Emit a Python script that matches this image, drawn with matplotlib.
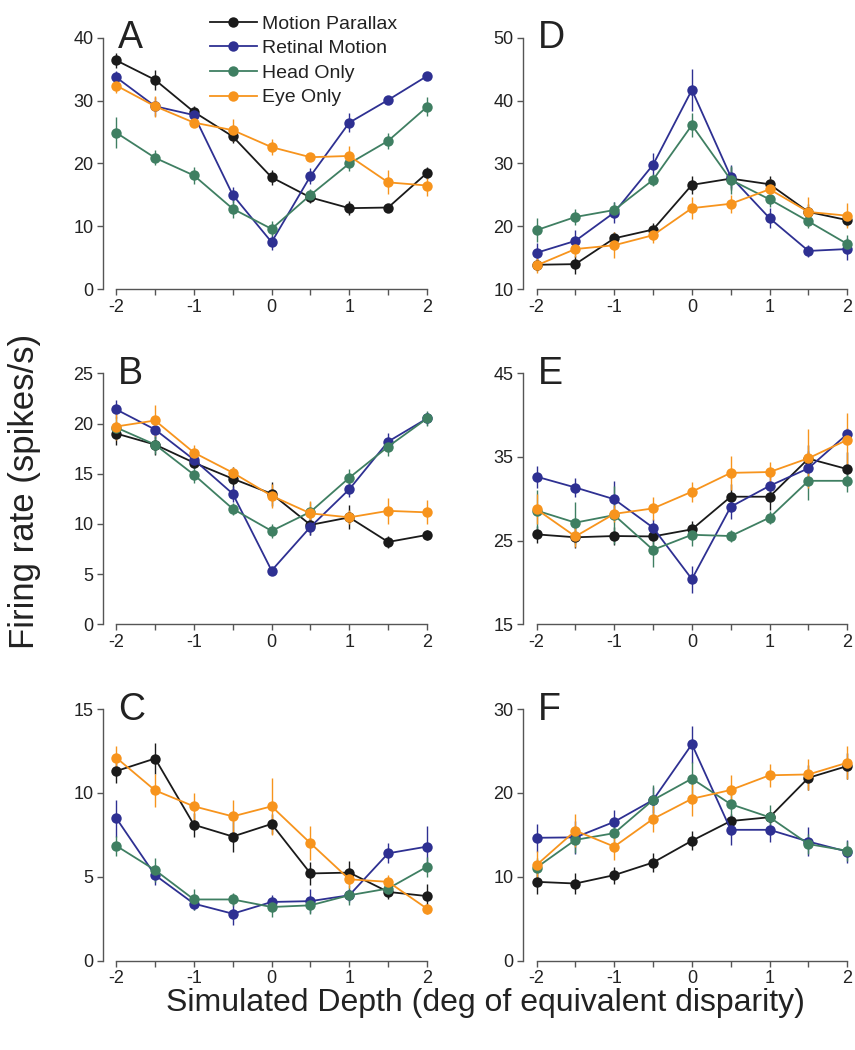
import numpy as np
import matplotlib.pyplot as plt
from matplotlib.ticker import MultipleLocator
from matplotlib.lines import Line2D

plt.rcParams['font.family'] = ['Liberation Sans', 'DejaVu Sans']

depth = [-2, -1.5, -1, -0.5, 0, 0.5, 1, 1.5, 2]
names = ["Motion Parallax", "Retinal Motion", "Head Only", "Eye Only"]
colors = ["#1a1a1a", "#2e3092", "#3f7f62", "#f7941d"]

# panel A
a_mp = [36.4, 33.3, 28.2, 24.3, 17.8, 14.6, 12.9, 13.0, 18.5]
a_mp_err = [1.2, 1.6, 1.0, 1.0, 1.2, 0.9, 1.1, 0.5, 1.0]
a_rm = [33.7, 29.1, 27.7, 15.0, 7.5, 18.0, 26.5, 30.1, 33.9]
a_rm_err = [1.0, 1.5, 1.0, 1.3, 1.2, 1.3, 1.5, 0.5, 0.5]
a_ho = [24.9, 20.9, 18.1, 12.8, 9.6, 15.0, 20.0, 23.6, 29.0]
a_ho_err = [2.5, 1.2, 1.4, 1.5, 1.2, 1.0, 1.2, 1.3, 1.5]
a_eo = [32.4, 29.1, 26.5, 25.3, 22.6, 21.0, 21.2, 17.0, 16.5]
a_eo_err = [1.2, 1.7, 0.7, 1.8, 1.3, 0.6, 1.6, 1.9, 1.6]

# panel B
b_mp = [19.0, 17.9, 16.1, 14.5, 13.0, 9.9, 10.65, 8.2, 8.9]
b_mp_err = [1.1, 1.0, 0.5, 1.2, 1.2, 1.0, 1.2, 0.6, 0.5]
b_rm = [21.4, 19.4, 16.4, 13.0, 5.35, 9.7, 13.45, 18.2, 20.5]
b_rm_err = [0.9, 0.9, 0.8, 0.8, 0.4, 0.8, 0.8, 0.9, 0.6]
b_ho = [19.6, 17.9, 14.9, 11.5, 9.3, 11.2, 14.6, 17.7, 20.5]
b_ho_err = [1.0, 0.9, 0.8, 0.6, 0.7, 1.0, 0.9, 0.9, 0.7]
b_eo = [19.7, 20.3, 17.1, 15.1, 12.8, 11.05, 10.65, 11.3, 11.15]
b_eo_err = [1.3, 1.5, 0.8, 0.6, 1.2, 1.2, 0.7, 1.3, 1.2]

# panel C
c_mp = [11.3, 12.05, 8.1, 7.4, 8.15, 5.2, 5.25, 4.1, 3.85]
c_mp_err = [0.7, 0.9, 0.7, 0.9, 0.6, 0.7, 0.7, 0.4, 0.7]
c_rm = [8.5, 5.1, 3.4, 2.8, 3.5, 3.55, 3.9, 6.4, 6.8]
c_rm_err = [1.1, 0.6, 0.4, 0.7, 0.4, 0.7, 0.4, 0.6, 1.2]
c_ho = [6.85, 5.4, 3.65, 3.65, 3.2, 3.3, 3.9, 4.3, 5.6]
c_ho_err = [0.6, 0.7, 0.6, 0.4, 0.6, 0.5, 0.6, 0.3, 0.6]
c_eo = [12.1, 10.15, 9.2, 8.6, 9.2, 7.0, 4.85, 4.7, 3.1]
c_eo_err = [0.7, 1.0, 0.8, 1.0, 1.7, 1.0, 0.5, 0.4, 0.3]

# panel D
d_mp = [13.9, 14.0, 18.1, 19.5, 26.6, 27.6, 26.7, 22.3, 21.0]
d_mp_err = [1.0, 1.5, 1.0, 1.0, 1.4, 1.8, 1.3, 1.2, 1.0]
d_rm = [15.8, 17.7, 22.2, 29.8, 41.7, 27.9, 21.3, 16.1, 16.4]
d_rm_err = [1.5, 1.8, 1.6, 1.8, 3.4, 1.8, 1.6, 1.0, 1.8]
d_ho = [19.4, 21.5, 22.6, 27.4, 36.1, 27.4, 24.3, 20.8, 17.2]
d_ho_err = [1.9, 1.3, 1.3, 1.0, 1.9, 2.2, 1.2, 1.1, 1.5]
d_eo = [13.8, 16.4, 17.0, 18.6, 22.9, 23.6, 25.9, 22.3, 21.7]
d_eo_err = [1.2, 1.3, 2.1, 1.2, 1.8, 1.4, 1.6, 2.3, 2.0]

# panel E
e_mp = [25.75, 25.4, 25.55, 25.5, 26.35, 30.25, 30.25, 34.8, 33.55]
e_mp_err = [1.0, 1.3, 1.1, 1.0, 1.0, 1.5, 1.6, 1.6, 2.0]
e_rm = [32.65, 31.35, 29.95, 26.55, 20.4, 29.05, 31.55, 33.65, 37.75]
e_rm_err = [1.3, 1.1, 2.2, 1.0, 1.6, 1.5, 1.4, 2.1, 0.7]
e_ho = [28.6, 27.15, 28.05, 23.9, 25.7, 25.55, 27.75, 32.15, 32.15]
e_ho_err = [2.5, 2.5, 3.5, 2.0, 1.3, 0.7, 0.8, 2.3, 1.3]
e_eo = [28.75, 25.5, 28.2, 28.85, 30.85, 33.1, 33.2, 34.85, 37.05]
e_eo_err = [1.8, 1.3, 1.0, 1.4, 1.2, 2.0, 1.2, 3.5, 3.2]

# panel F
f_mp = [9.4, 9.2, 10.2, 11.7, 14.3, 16.65, 17.1, 21.8, 23.2]
f_mp_err = [1.4, 1.3, 1.0, 1.1, 1.1, 0.8, 0.6, 1.5, 1.5]
f_rm = [14.65, 14.7, 16.55, 19.15, 25.8, 15.6, 15.6, 14.2, 13.0]
f_rm_err = [1.7, 2.0, 1.4, 1.5, 2.2, 1.8, 1.4, 1.7, 1.4]
f_ho = [11.1, 14.4, 15.2, 19.15, 21.7, 18.65, 17.1, 13.9, 13.1]
f_ho_err = [1.2, 1.6, 1.3, 1.8, 2.0, 1.5, 1.5, 1.2, 1.2]
f_eo = [11.4, 15.5, 13.6, 16.9, 19.3, 20.35, 22.1, 22.2, 23.6]
f_eo_err = [1.7, 2.0, 1.6, 1.6, 2.0, 1.8, 1.4, 1.8, 2.0]

a_ticks = [0, 10, 20, 30, 40]
b_ticks = [0, 5, 10, 15, 20, 25]
c_ticks = [0, 5, 10, 15]
d_ticks = [10, 20, 30, 40, 50]
e_ticks = [15, 25, 35, 45]
f_ticks = [0, 10, 20, 30]

W, H = 855, 1050
fig = plt.figure(figsize=(W / 100, H / 100), dpi=100)


def make_axes(left_px, top_px, bottom_px):
    width_px = 4.27 * 77.7
    return fig.add_axes([left_px / W, 1 - bottom_px / H,
                         width_px / W, (bottom_px - top_px) / H])


def draw_panel(ax, letter, vals, errs, yticks):
    for v, e, c in zip(vals, errs, colors):
        ax.errorbar(depth, v, yerr=e, fmt='-o', color=c, ms=7.5, mew=0,
                    lw=1.3, elinewidth=1.0, capsize=2, capthick=1.0,
                    clip_on=False)
    ax.set_xlim(-2.17, 2.1)
    ax.set_ylim(yticks[0], yticks[-1])
    for s in ['top', 'right']:
        ax.spines[s].set_visible(False)
    for s in ['left', 'bottom']:
        ax.spines[s].set_color('#555555')
        ax.spines[s].set_linewidth(1.0)
    ax.spines['bottom'].set_bounds(-2, 2)
    ax.set_yticks(yticks)
    ax.set_xticks([-2, -1, 0, 1, 2])
    ax.set_xticklabels(['-2', '-1', '0', '1', '2'])
    ax.xaxis.set_minor_locator(MultipleLocator(0.5))
    ax.tick_params(axis='both', which='both', direction='out', length=4,
                   width=1.0, color='#555555', labelsize=13, pad=3,
                   labelcolor='#222222')
    ax.patch.set_visible(False)
    ax.text(0.045, 0.958, letter, transform=ax.transAxes, fontsize=27,
            va='baseline', ha='left', color='#222222')


ax_a = make_axes(103, 37.7, 289.3)
ax_b = make_axes(103, 373.3, 624.3)
ax_c = make_axes(103, 709, 960.7)
ax_d = make_axes(523.3, 37.7, 289.3)
ax_e = make_axes(523.3, 373.3, 624.3)
ax_f = make_axes(523.3, 709, 960.7)

draw_panel(ax_a, 'A', [a_mp, a_rm, a_ho, a_eo], [a_mp_err, a_rm_err, a_ho_err, a_eo_err], a_ticks)
draw_panel(ax_b, 'B', [b_mp, b_rm, b_ho, b_eo], [b_mp_err, b_rm_err, b_ho_err, b_eo_err], b_ticks)
draw_panel(ax_c, 'C', [c_mp, c_rm, c_ho, c_eo], [c_mp_err, c_rm_err, c_ho_err, c_eo_err], c_ticks)
draw_panel(ax_d, 'D', [d_mp, d_rm, d_ho, d_eo], [d_mp_err, d_rm_err, d_ho_err, d_eo_err], d_ticks)
draw_panel(ax_e, 'E', [e_mp, e_rm, e_ho, e_eo], [e_mp_err, e_rm_err, e_ho_err, e_eo_err], e_ticks)
draw_panel(ax_f, 'F', [f_mp, f_rm, f_ho, f_eo], [f_mp_err, f_rm_err, f_ho_err, f_eo_err], f_ticks)

handles = [Line2D([], [], color=c, marker='o', ms=7.5, mew=0, lw=1.3) for c in colors]
leg = fig.legend(handles, names, loc='upper left', bbox_to_anchor=(210 / W, 1 - 15 / H),
                 frameon=False, fontsize=14, handlelength=2.4, handletextpad=0.25,
                 labelspacing=0.36, borderpad=0, borderaxespad=0)
for t in leg.get_texts():
    t.set_color('#222222')

fig.text(25 / W, 1 - 491 / H, 'Firing rate (spikes/s)', rotation=90,
         fontsize=25, ha='center', va='center', color='#222222')
fig.text(485 / W, 1 - 1011 / H, 'Simulated Depth (deg of equivalent disparity)',
         fontsize=23, ha='center', va='baseline', color='#222222')

fig.savefig('out.png', dpi=100)
